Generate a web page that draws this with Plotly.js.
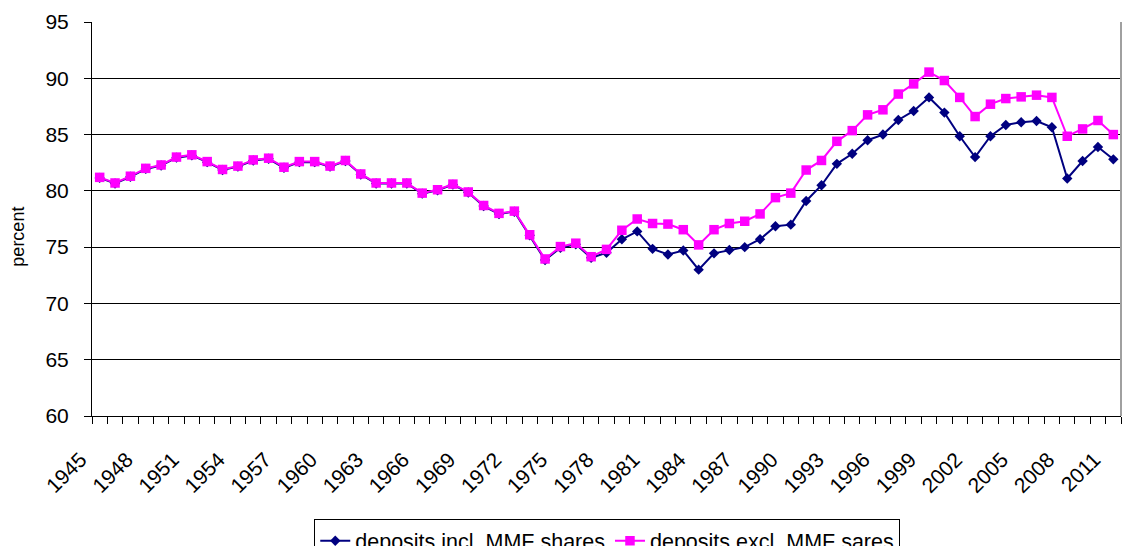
<!DOCTYPE html>
<html>
<head>
<meta charset="utf-8">
<script src="https://cdn.plot.ly/plotly-3.0.1.min.js"></script>
<style>html,body{margin:0;padding:0;background:#fff;}#chart{width:1126px;height:546px;}</style>
</head>
<body>
<div id="chart"></div>
<script>
var years = [1945,1946,1947,1948,1949,1950,1951,1952,1953,1954,1955,1956,1957,1958,1959,1960,1961,1962,1963,1964,1965,1966,1967,1968,1969,1970,1971,1972,1973,1974,1975,1976,1977,1978,1979,1980,1981,1982,1983,1984,1985,1986,1987,1988,1989,1990,1991,1992,1993,1994,1995,1996,1997,1998,1999,2000,2001,2002,2003,2004,2005,2006,2007,2008,2009,2010,2011];

var depositsIncl = [81.15,80.65,81.25,81.95,82.25,82.95,83.15,82.55,81.85,82.15,82.7,82.85,82.05,82.55,82.55,82.15,82.65,81.45,80.65,80.65,80.65,79.75,80.05,80.55,79.85,78.65,77.95,78.15,76.05,73.85,74.95,75.25,74.05,74.5,75.7,76.4,74.85,74.35,74.7,73.0,74.45,74.75,75.0,75.7,76.85,77.0,79.1,80.5,82.4,83.3,84.5,85.0,86.3,87.1,88.3,86.95,84.85,83.0,84.85,85.85,86.1,86.2,85.65,81.1,82.65,83.9,82.8];

var depositsExcl = [81.2,80.7,81.3,82.0,82.3,83.0,83.2,82.6,81.9,82.2,82.75,82.9,82.1,82.6,82.6,82.2,82.7,81.5,80.7,80.7,80.7,79.8,80.1,80.6,79.9,78.7,78.0,78.2,76.1,73.95,75.05,75.35,74.15,74.8,76.5,77.5,77.1,77.05,76.55,75.2,76.55,77.1,77.3,77.95,79.4,79.8,81.85,82.7,84.4,85.35,86.75,87.2,88.6,89.5,90.55,89.8,88.3,86.6,87.7,88.2,88.35,88.5,88.3,84.85,85.5,86.25,85.0];

var xTickYears = [1945,1948,1951,1954,1957,1960,1963,1966,1969,1972,1975,1978,1981,1984,1987,1990,1993,1996,1999,2002,2005,2008,2011];
var yTicks = [60,65,70,75,80,85,90,95];

var font = 'Liberation Sans, Arial, sans-serif';

var traces = [
  {
    x: years, y: depositsIncl, name: 'deposits incl. MMF shares',
    type: 'scatter', mode: 'lines+markers',
    line: {color: '#000080', width: 2},
    marker: {symbol: 'diamond', size: 8, color: '#000080'}
  },
  {
    x: years, y: depositsExcl, name: 'deposits excl. MMF sares',
    type: 'scatter', mode: 'lines+markers',
    line: {color: '#FF00FF', width: 2},
    marker: {symbol: 'square', size: 9.5, color: '#FF00FF'}
  }
];

var layout = {
  width: 1126, height: 546,
  margin: {l: 92, r: 5, t: 22, b: 130, autoexpand: false},
  paper_bgcolor: '#fff', plot_bgcolor: '#fff',
  font: {family: font, size: 21, color: '#000'},
  showlegend: true,
  legend: {
    orientation: 'h', x: 0.216, xanchor: 'left', y: -0.262, yanchor: 'top',
    bordercolor: '#000', borderwidth: 1, bgcolor: '#fff',
    font: {family: font, size: 21.5, color: '#000'},
    itemwidth: 30, tracegroupgap: 0
  },
  xaxis: {
    type: 'linear', range: [1944.5, 2011.5],
    tickmode: 'array', tickvals: xTickYears, ticktext: xTickYears.map(String),
    tickangle: -45, ticks: '', showgrid: false, zeroline: false,
    showline: true, linecolor: '#000', linewidth: 1,
    ticklabelstandoff: 22, ticklabelshift: -19,
    tickfont: {family: font, size: 21, color: '#000'},
    minor: {tick0: 1944.5, dtick: 1, ticks: 'outside', ticklen: 7, tickcolor: '#000', tickwidth: 1, showgrid: false}
  },
  yaxis: {
    range: [60, 95], tickmode: 'array', tickvals: yTicks,
    ticks: 'outside', ticklen: 7, tickcolor: '#000',
    showgrid: true, gridcolor: '#000', gridwidth: 1, zeroline: false,
    showline: true, linecolor: '#000', linewidth: 1,
    ticklabelstandoff: 11,
    tickfont: {family: font, size: 21, color: '#000'}
  },
  annotations: [
    {text: 'percent', xref: 'paper', yref: 'paper', x: -0.072, y: 0.455,
     xanchor: 'center', yanchor: 'middle', textangle: -90, showarrow: false,
     font: {family: font, size: 18, color: '#000'}}
  ],
  shapes: [
    {type: 'line', xref: 'paper', yref: 'paper', x0: 1, x1: 1, y0: 0, y1: 1, line: {color: '#a0a0a0', width: 2}}
  ]
};

Plotly.newPlot('chart', traces, layout, {displayModeBar: false, staticPlot: true});
</script>
</body>
</html>
